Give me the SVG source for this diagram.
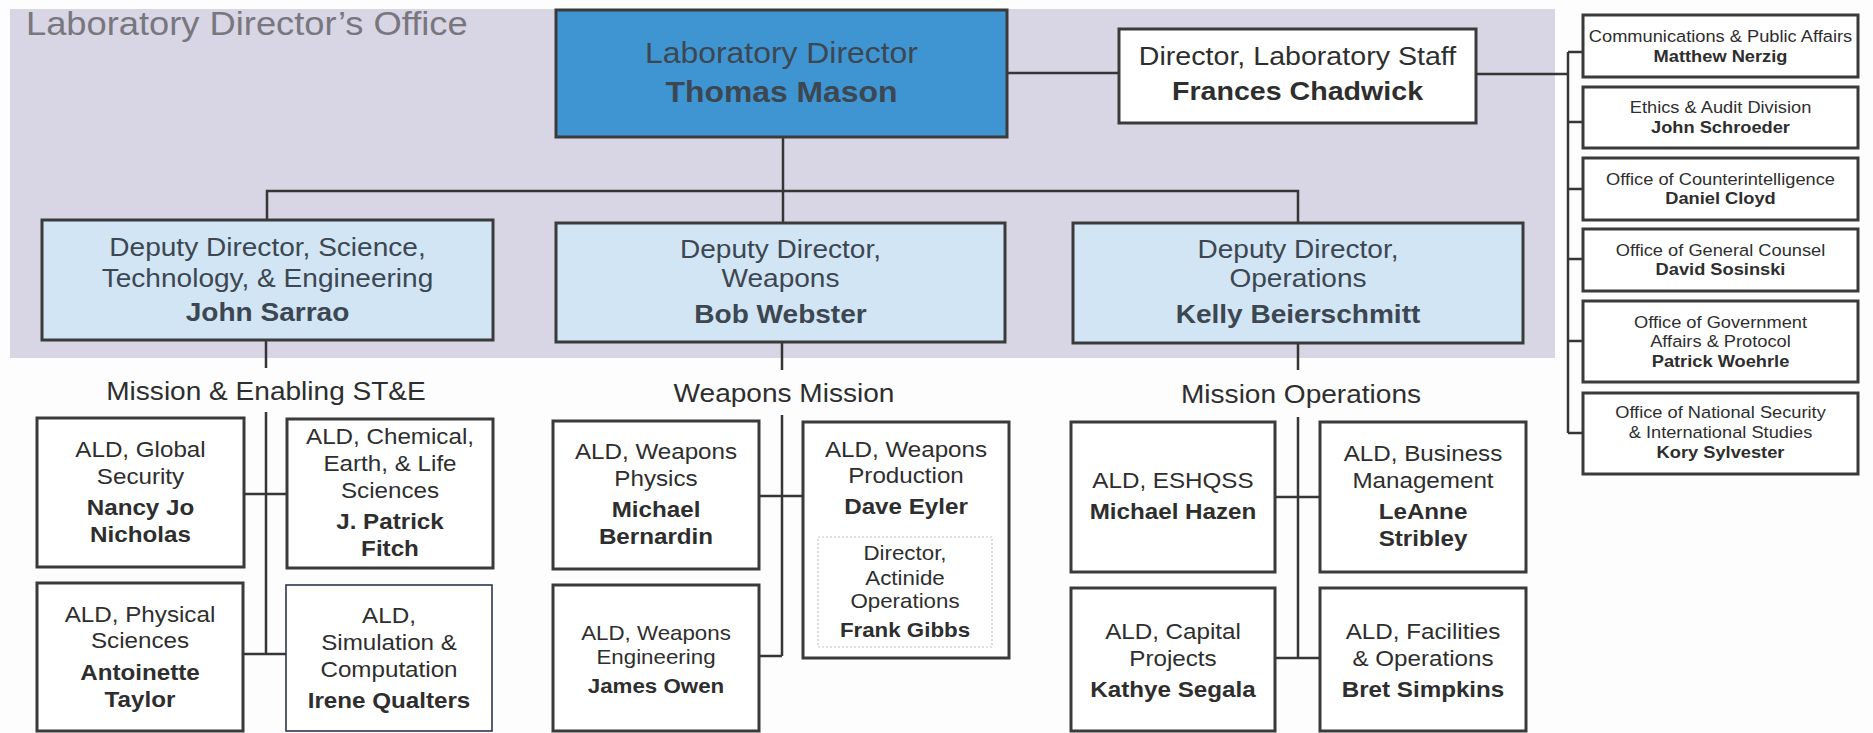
<svg xmlns="http://www.w3.org/2000/svg" width="1873" height="733" viewBox="0 0 1873 733">
<style>
  text{font-family:"Liberation Sans",Arial,Helvetica,sans-serif;text-anchor:middle;fill:#2e2e2e}
  .b{font-weight:bold}
  .f33{font-size:33px}
  .f29{font-size:29px}
  .f26{font-size:26px}
  .f25{font-size:25.5px}
  .f22{font-size:22px}
  .f20{font-size:20.3px}
  .f16{font-size:16.6px}
  .panel{fill:#d8d5e4}
  .box{stroke:#3a3a3a;stroke-width:3}
  .thin{stroke:#2c3652;stroke-width:1.6}
  .lead{fill:#3f95d1}
  .dep{fill:#d2e5f5}
  .wht{fill:#ffffff}
  .inner{fill:#ffffff;stroke:#c4c4c4;stroke-width:1.2;stroke-dasharray:2 2}
  .ln{stroke:#363636;stroke-width:2.5;fill:none}
  .dk text{fill:#3c4751}
</style>

<!-- background -->
<rect x="0" y="0" width="1873" height="733" fill="#fdfdfd"/>
<rect class="panel" x="10" y="9" width="1545" height="349"/>
<g transform="translate(26 0) scale(1.1 1)">
  <text x="0" y="35" class="f33" style="text-anchor:start;fill:#78777f">Laboratory Director’s Office</text>
</g>

<!-- connectors -->
<g id="connectors" class="ln">
  <path d="M783 137 V223"/>
  <path d="M267 220 V191 H1298 V223"/>
  <path d="M1007 73 H1119"/>
  <path d="M1476 74 H1568"/>
  <path d="M1568 52 V433"/>
  <path d="M1568 52 H1583 M1568 122 H1583 M1568 189 H1583 M1568 259 H1583 M1568 341 H1583 M1568 433 H1583"/>
  <path d="M266 340 V368 M266 412 V654 M244 494 H287 M243 654 H286"/>
  <path d="M782 342 V370 M782 415 V656 M759 496 H803 M759 656 H782"/>
  <path d="M1298 343 V370 M1298 417 V658 M1275 497 H1320 M1275 658 H1320"/>
</g>

<!-- top level -->
<g id="lab-director" class="dk">
  <rect class="box lead" x="556" y="10" width="451" height="127"/>
  <g transform="translate(781.5 0) scale(1.1 1)">
    <text y="63" class="f29">Laboratory Director</text>
    <text y="102" class="f29 b">Thomas Mason</text>
  </g>
</g>

<g id="lab-staff">
  <rect class="box wht" x="1119" y="29" width="357" height="94"/>
  <g transform="translate(1297.5 0) scale(1.1 1)">
    <text y="65" class="f26">Director, Laboratory Staff</text>
    <text y="100" class="f26 b">Frances Chadwick</text>
  </g>
</g>

<!-- deputy directors -->
<g id="dd-ste" class="dk">
  <rect class="box dep" x="42" y="220" width="451" height="120"/>
  <g transform="translate(267.5 0) scale(1.1 1)">
    <text y="256" class="f25">Deputy Director, Science,</text>
    <text y="287" class="f25">Technology, &amp; Engineering</text>
    <text y="321" class="f25 b">John Sarrao</text>
  </g>
</g>

<g id="dd-weapons" class="dk">
  <rect class="box dep" x="556" y="223" width="449" height="119"/>
  <g transform="translate(780.5 0) scale(1.1 1)">
    <text y="258" class="f25">Deputy Director,</text>
    <text y="287" class="f25">Weapons</text>
    <text y="323" class="f25 b">Bob Webster</text>
  </g>
</g>

<g id="dd-operations" class="dk">
  <rect class="box dep" x="1073" y="223" width="450" height="120"/>
  <g transform="translate(1298 0) scale(1.1 1)">
    <text y="258" class="f25">Deputy Director,</text>
    <text y="287" class="f25">Operations</text>
    <text y="323" class="f25 b">Kelly Beierschmitt</text>
  </g>
</g>

<!-- directorate headings -->
<g id="heading-ste" transform="translate(266 0) scale(1.1 1)">
  <text y="400" class="f25">Mission &amp; Enabling ST&amp;E</text>
</g>
<g id="heading-weapons" transform="translate(784 0) scale(1.1 1)">
  <text y="402" class="f25">Weapons Mission</text>
</g>
<g id="heading-operations" transform="translate(1301 0) scale(1.1 1)">
  <text y="403" class="f25">Mission Operations</text>
</g>

<!-- Mission & Enabling ST&E -->
<g id="ald-global-security">
  <rect class="box wht" x="37" y="418" width="207" height="149"/>
  <g transform="translate(140.5 0) scale(1.1 1)">
    <text y="457" class="f22">ALD, Global</text>
    <text y="484" class="f22">Security</text>
    <text y="515" class="f22 b">Nancy Jo</text>
    <text y="542" class="f22 b">Nicholas</text>
  </g>
</g>

<g id="ald-chemical">
  <rect class="box wht" x="287" y="419" width="206" height="149"/>
  <g transform="translate(390 0) scale(1.1 1)">
    <text y="444" class="f22">ALD, Chemical,</text>
    <text y="471" class="f22">Earth, &amp; Life</text>
    <text y="498" class="f22">Sciences</text>
    <text y="529" class="f22 b">J. Patrick</text>
    <text y="556" class="f22 b">Fitch</text>
  </g>
</g>

<g id="ald-physical-sciences">
  <rect class="box wht" x="37" y="583" width="206" height="148"/>
  <g transform="translate(140 0) scale(1.1 1)">
    <text y="622" class="f22">ALD, Physical</text>
    <text y="648" class="f22">Sciences</text>
    <text y="680" class="f22 b">Antoinette</text>
    <text y="707" class="f22 b">Taylor</text>
  </g>
</g>

<g id="ald-simulation">
  <rect class="thin wht" x="286" y="585" width="206" height="146"/>
  <g transform="translate(389 0) scale(1.1 1)">
    <text y="623" class="f22">ALD,</text>
    <text y="650" class="f22">Simulation &amp;</text>
    <text y="677" class="f22">Computation</text>
    <text y="708" class="f22 b">Irene Qualters</text>
  </g>
</g>

<!-- Weapons Mission -->
<g id="ald-weapons-physics">
  <rect class="box wht" x="553" y="421" width="206" height="148"/>
  <g transform="translate(656 0) scale(1.1 1)">
    <text y="459" class="f22">ALD, Weapons</text>
    <text y="486" class="f22">Physics</text>
    <text y="517" class="f22 b">Michael</text>
    <text y="544" class="f22 b">Bernardin</text>
  </g>
</g>

<g id="ald-weapons-production">
  <rect class="box wht" x="803" y="422" width="206" height="236"/>
  <g transform="translate(906 0) scale(1.1 1)">
    <text y="457" class="f22">ALD, Weapons</text>
    <text y="483" class="f22">Production</text>
    <text y="514" class="f22 b">Dave Eyler</text>
  </g>
  <rect class="inner" x="818" y="537" width="174" height="110"/>
  <g transform="translate(905 0) scale(1.1 1)">
    <text y="560" class="f20">Director,</text>
    <text y="585" class="f20">Actinide</text>
    <text y="608" class="f20">Operations</text>
    <text y="637" class="f20 b">Frank Gibbs</text>
  </g>
</g>

<g id="ald-weapons-engineering">
  <rect class="box wht" x="553" y="585" width="206" height="146"/>
  <g transform="translate(656 0) scale(1.1 1)">
    <text y="640" class="f20">ALD, Weapons</text>
    <text y="664" class="f20">Engineering</text>
    <text y="693" class="f20 b">James Owen</text>
  </g>
</g>

<!-- Mission Operations -->
<g id="ald-eshqss">
  <rect class="box wht" x="1071" y="422" width="204" height="150"/>
  <g transform="translate(1173 0) scale(1.1 1)">
    <text y="488" class="f22">ALD, ESHQSS</text>
    <text y="519" class="f22 b">Michael Hazen</text>
  </g>
</g>

<g id="ald-business">
  <rect class="box wht" x="1320" y="422" width="206" height="150"/>
  <g transform="translate(1423 0) scale(1.1 1)">
    <text y="461" class="f22">ALD, Business</text>
    <text y="488" class="f22">Management</text>
    <text y="519" class="f22 b">LeAnne</text>
    <text y="546" class="f22 b">Stribley</text>
  </g>
</g>

<g id="ald-capital-projects">
  <rect class="box wht" x="1071" y="588" width="204" height="143"/>
  <g transform="translate(1173 0) scale(1.1 1)">
    <text y="639" class="f22">ALD, Capital</text>
    <text y="666" class="f22">Projects</text>
    <text y="697" class="f22 b">Kathye Segala</text>
  </g>
</g>

<g id="ald-facilities">
  <rect class="box wht" x="1320" y="588" width="206" height="143"/>
  <g transform="translate(1423 0) scale(1.1 1)">
    <text y="639" class="f22">ALD, Facilities</text>
    <text y="666" class="f22">&amp; Operations</text>
    <text y="697" class="f22 b">Bret Simpkins</text>
  </g>
</g>

<!-- staff offices -->
<g id="office-communications">
  <rect class="box wht" x="1583" y="15" width="275" height="62"/>
  <g transform="translate(1720.5 0) scale(1.1 1)">
    <text y="42" class="f16">Communications &amp; Public Affairs</text>
    <text y="62" class="f16 b">Matthew Nerzig</text>
  </g>
</g>

<g id="office-ethics">
  <rect class="box wht" x="1583" y="87" width="275" height="61"/>
  <g transform="translate(1720.5 0) scale(1.1 1)">
    <text y="113" class="f16">Ethics &amp; Audit Division</text>
    <text y="133" class="f16 b">John Schroeder</text>
  </g>
</g>

<g id="office-counterintelligence">
  <rect class="box wht" x="1583" y="158" width="275" height="62"/>
  <g transform="translate(1720.5 0) scale(1.1 1)">
    <text y="185" class="f16">Office of Counterintelligence</text>
    <text y="204" class="f16 b">Daniel Cloyd</text>
  </g>
</g>

<g id="office-general-counsel">
  <rect class="box wht" x="1583" y="229" width="275" height="62"/>
  <g transform="translate(1720.5 0) scale(1.1 1)">
    <text y="256" class="f16">Office of General Counsel</text>
    <text y="275" class="f16 b">David Sosinski</text>
  </g>
</g>

<g id="office-government-affairs">
  <rect class="box wht" x="1583" y="301" width="275" height="81"/>
  <g transform="translate(1720.5 0) scale(1.1 1)">
    <text y="328" class="f16">Office of Government</text>
    <text y="347" class="f16">Affairs &amp; Protocol</text>
    <text y="367" class="f16 b">Patrick Woehrle</text>
  </g>
</g>

<g id="office-national-security">
  <rect class="box wht" x="1583" y="393" width="275" height="81"/>
  <g transform="translate(1720.5 0) scale(1.1 1)">
    <text y="418" class="f16">Office of National Security</text>
    <text y="438" class="f16">&amp; International Studies</text>
    <text y="458" class="f16 b">Kory Sylvester</text>
  </g>
</g>
</svg>
